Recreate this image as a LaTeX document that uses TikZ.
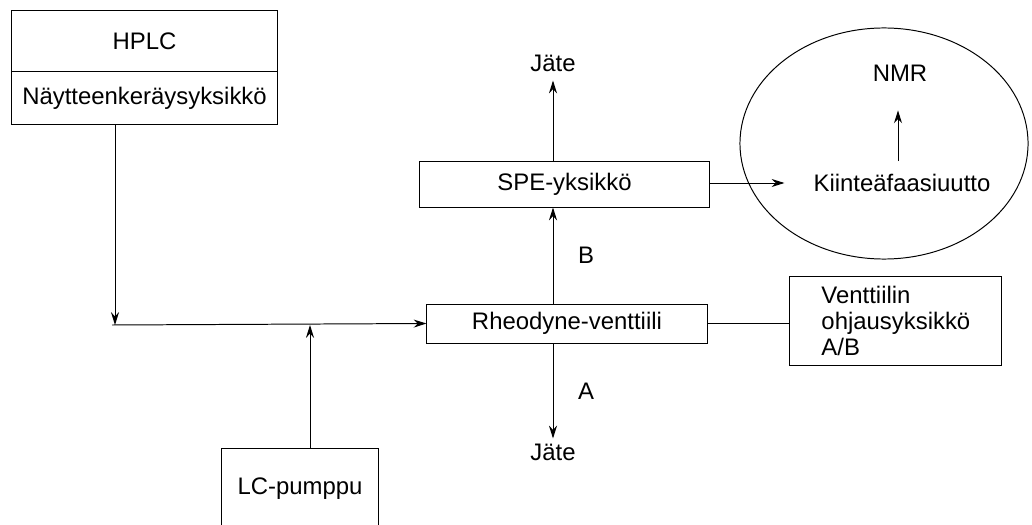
\documentclass[tikz,border=0pt]{standalone}
\usepackage{fontspec}
\setmainfont{Liberation Sans}
\usetikzlibrary{arrows.meta,shapes.geometric}

\tikzset{
  box/.style={draw, rectangle, inner sep=0pt, font=\fontsize{17}{20}\selectfont},
  lbl/.style={font=\fontsize{17}{20}\selectfont},
  flow/.style={-{Stealth[length=3.2mm,width=2mm]}}
}

\begin{document}
\begin{tikzpicture}[x=0.025cm, y=-0.025cm, line width=0.7pt]
  \useasboundingbox (0,0) rectangle (1032,525);
  \clip (0,0) rectangle (1032,525);

  \node[box, minimum width=6.625cm, minimum height=1.5cm] (hplc) at (144.5,41) {HPLC};
  \node[box, minimum width=6.625cm, minimum height=1.3cm, anchor=north] (keruu) at (hplc.south) {Näytteenkeräysyksikkö};

  \node[box, minimum width=3.9cm, minimum height=2cm, anchor=north] (pumppu) at (300,448) {LC-pumppu};

  \node[box, minimum width=7cm, minimum height=0.975cm] (rheo) at (567,323.5) {Rheodyne-venttiili};
  \node[box, minimum width=7.225cm, minimum height=1.15cm] (spe) at (564.5,184) {SPE-yksikkö};
  \node[box, minimum height=2.2cm, text width=3.7cm, inner xsep=0.8cm, align=left,
        font=\fontsize{17}{18.3}\selectfont] (ohjaus) at (895.5,321) {Venttiilin\\ohjausyksikkö\\A/B};

  \node[draw, ellipse, inner sep=0pt, minimum width=7.2cm, minimum height=5.775cm] (nmrala) at (884,143.5) {};
  \node[lbl] (kiinteä) at (902,183) {Kiinteäfaasiuutto};
  \node[lbl] (nmr) at (900,73) {NMR};

  \node[lbl] (jate1) at (553,63) {Jäte};
  \node[lbl] (jate2) at (553,452) {Jäte};

  \coordinate (liitos) at (115,325);
  \coordinate (alku) at (112,325);
  \coordinate (pumppuliitos) at (310,325);
  \coordinate (akseli) at (553,0);
  \coordinate (nmrakseli) at (898,0);

  \draw[flow] (keruu.south -| liitos) -- (liitos);
  \draw[flow] (alku) -- (rheo.west);
  \draw[flow] (pumppu.north -| pumppuliitos) -- (pumppuliitos);
  \draw[flow] (rheo.north -| akseli) -- (spe.south -| akseli) node[midway, right=0.5cm, lbl] {B};
  \draw[flow] (rheo.south -| akseli) -- (jate2.north -| akseli) node[midway, right=0.5cm, lbl] {A};
  \draw[flow] (spe.north -| akseli) -- ([yshift=-0.1cm]jate1.south -| akseli);
  \draw (rheo.east) -- (rheo.east -| ohjaus.west);
  \draw[flow] (spe.east |- kiinteä) -- ([xshift=-0.6cm]kiinteä.west);
  \draw[flow] (kiinteä.north -| nmrakseli) ++(0,-8) -- ([yshift=-0.6cm]nmr.south -| nmrakseli);
\end{tikzpicture}
\end{document}
